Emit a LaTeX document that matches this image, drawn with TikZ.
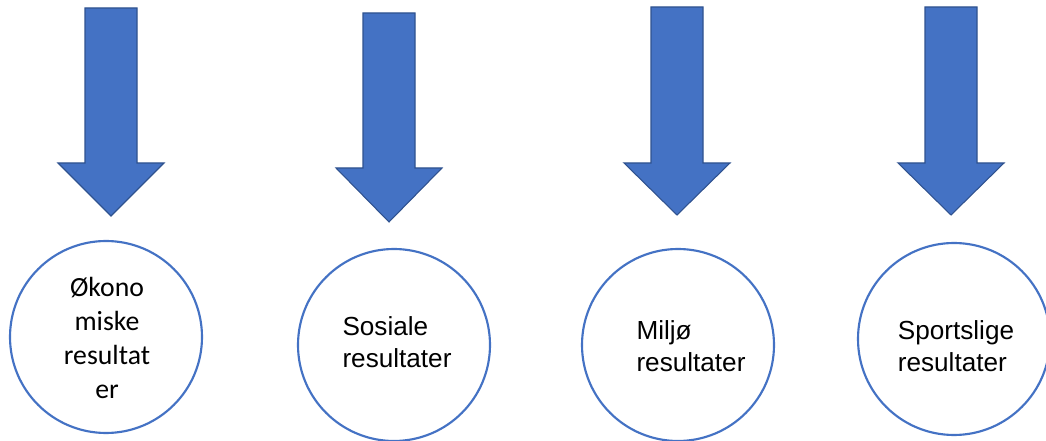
\documentclass[tikz,border=0pt]{standalone}
\usepackage{fontspec}
\setmainfont{Liberation Sans}
\newfontfamily\calibrifont{Carlito}
\definecolor{officeblue}{HTML}{4472C4}
\definecolor{officeedge}{HTML}{2F528F}
\tikzset{
  blockarrow/.style={fill=officeblue, draw=officeedge, line width=0.8pt, line join=miter},
  result/.style={circle, draw=officeblue, line width=1.6pt, fill=white, minimum size=144pt, inner sep=0pt},
  resulttext/.style={align=left, font=\fontsize{19.6}{24}\selectfont, inner sep=0pt}
}
% x centre, top, start of head, tip
\newcommand{\downblock}[4]{%
\filldraw[blockarrow] (#1-26,#2) -- (#1+26,#2) -- (#1+26,#3) -- (#1+53,#3) -- (#1,#4) -- (#1-53,#3) -- (#1-26,#3) -- cycle;}
\begin{document}
\begin{tikzpicture}[x=0.75pt,y=-0.75pt]
\useasboundingbox (0,0) rectangle (1046,441);
%
\downblock{111}{8}{163}{216}
\node[result] (okonomi) at (106,337) {};
\node[resulttext, align=center, font=\calibrifont\fontsize{20.8}{25.5}\selectfont] (okonomitekst) at (107,338) {Økono\\miske\\resultat\\er};
%
\downblock{389}{13}{168}{222}
\node[result] (sosiale) at (394,345) {};
\node[resulttext] (sosialetekst) at (397,342) {Sosiale\\resultater};
%
\downblock{677}{7}{163}{215}
\node[result] (miljo) at (678,345) {};
\node[resulttext] (miljotekst) at (691,346) {Miljø\\resultater};
%
\downblock{951}{7}{163}{215}
\node[result] (sport) at (954,339) {};
\node[resulttext] (sporttekst) at (956,346) {Sportslige\\resultater};
%
\end{tikzpicture}
\end{document}
